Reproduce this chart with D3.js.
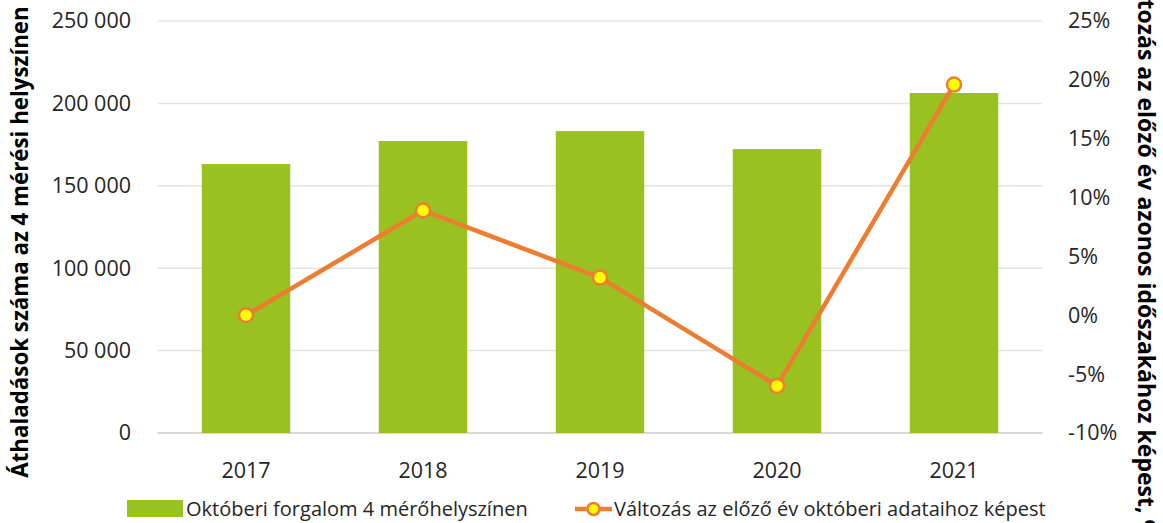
<!DOCTYPE html>
<html>
<head>
<meta charset="utf-8">
<script src="https://cdn.jsdelivr.net/npm/d3@7"></script>
<style>
  body { margin: 0; background: #fff; }
  svg { display: block; font-family: "Open Sans", "Noto Sans", sans-serif; }
</style>
</head>
<body>
<svg id="chart" width="1163" height="523"></svg>
<script>
// data
const years = ["2017", "2018", "2019", "2020", "2021"];
const traffic = [163200, 177200, 183200, 172300, 206300];
const change = [0, 8.9, 3.2, -6.0, 19.6];
const leftTicks = [0, 50000, 100000, 150000, 200000, 250000];
const rightTicks = [-10, -5, 0, 5, 10, 15, 20, 25];

const svg = d3.select("#chart");
const plotLeft = 157.5, plotRight = 1042.5, plotTop = 21, plotBottom = 433;
const tickFont = 21.5;

const x = d3.scaleBand().domain(years).range([plotLeft, plotRight]).paddingInner(0.5).paddingOuter(0.25);
const yL = d3.scaleLinear().domain([0, 250000]).range([plotBottom, plotTop]);
const yR = d3.scaleLinear().domain([-10, 25]).range([plotBottom, plotTop]);

const fmt = d => d3.format(",")(d).replace(/,/g, " ");

// gridlines
svg.append("g")
  .selectAll("line")
  .data(leftTicks)
  .enter()
  .append("line")
    .attr("x1", plotLeft)
    .attr("x2", plotRight)
    .attr("y1", d => yL(d))
    .attr("y2", d => yL(d))
    .attr("stroke", d => d === 0 ? "#d9d9d9" : "#e3e3e3")
    .attr("stroke-width", d => d === 0 ? 2 : 1.5);

// bars
svg.append("g")
  .selectAll("rect")
  .data(traffic)
  .enter()
  .append("rect")
    .attr("x", (d, i) => x(years[i]))
    .attr("width", x.bandwidth())
    .attr("y", d => yL(d))
    .attr("height", d => yL(0) - yL(d))
    .attr("fill", "#99c221");

// left axis
const gl = svg.append("g")
  .attr("transform", "translate(131,0)")
  .call(d3.axisLeft(yL).tickValues(leftTicks).tickFormat(fmt).tickSize(0));
gl.select(".domain").remove();
gl.selectAll("text").attr("x", 0).attr("font-size", tickFont).attr("fill", "#262626").attr("font-family", "Open Sans");

// right axis
const gr = svg.append("g")
  .attr("transform", "translate(1068,0)")
  .call(d3.axisRight(yR).tickValues(rightTicks).tickFormat(d => d + "%").tickSize(0));
gr.select(".domain").remove();
gr.selectAll("text").attr("x", 0).attr("font-size", tickFont).attr("fill", "#262626").attr("font-family", "Open Sans");

// x axis
const gx = svg.append("g")
  .attr("transform", "translate(0,478)")
  .call(d3.axisBottom(x).tickSize(0));
gx.select(".domain").remove();
gx.selectAll("text").attr("y", 0).attr("dy", 0).attr("font-size", tickFont).attr("fill", "#262626").attr("font-family", "Open Sans");

// line
const line = d3.line()
  .x((d, i) => x(years[i]) + x.bandwidth() / 2)
  .y(d => yR(d));

svg.append("path")
  .datum(change)
  .attr("d", line)
  .attr("fill", "none")
  .attr("stroke", "#ed7d31")
  .attr("stroke-width", 4.5)
  .attr("stroke-linejoin", "round");

svg.append("g")
  .selectAll("circle")
  .data(change)
  .enter()
  .append("circle")
    .attr("cx", (d, i) => x(years[i]) + x.bandwidth() / 2)
    .attr("cy", d => yR(d))
    .attr("r", 7)
    .attr("fill", "#ffff00")
    .attr("stroke", "#ed7d31")
    .attr("stroke-width", 2.5);

// axis titles
svg.append("text")
  .attr("transform", "translate(28,242) rotate(-90)")
  .attr("text-anchor", "middle")
  .attr("font-size", 22.3)
  .attr("font-weight", "bold")
  .attr("fill", "#000")
  .text("Áthaladások száma az 4 mérési helyszínen");

svg.append("text")
  .attr("transform", "translate(1138,252) rotate(90)")
  .attr("text-anchor", "middle")
  .attr("font-size", 23)
  .attr("font-weight", "bold")
  .attr("fill", "#000")
  .text("Változás az előző év azonos időszakához képest, %");

// legend
const lg = svg.append("g").attr("font-size", 20).attr("fill", "#262626");
lg.append("rect")
  .attr("x", 127).attr("y", 500).attr("width", 56).attr("height", 17)
  .attr("fill", "#99c221");
lg.append("text").attr("x", 186).attr("y", 516).text("Októberi forgalom 4 mérőhelyszínen");
lg.append("line")
  .attr("x1", 575).attr("x2", 612).attr("y1", 509).attr("y2", 509)
  .attr("stroke", "#ed7d31").attr("stroke-width", 4.5);
lg.append("circle")
  .attr("cx", 593.5).attr("cy", 509).attr("r", 6)
  .attr("fill", "#ffff00").attr("stroke", "#ed7d31").attr("stroke-width", 2.5);
lg.append("text").attr("x", 614).attr("y", 516).text("Változás az előző év októberi adataihoz képest");
</script>
</body>
</html>
